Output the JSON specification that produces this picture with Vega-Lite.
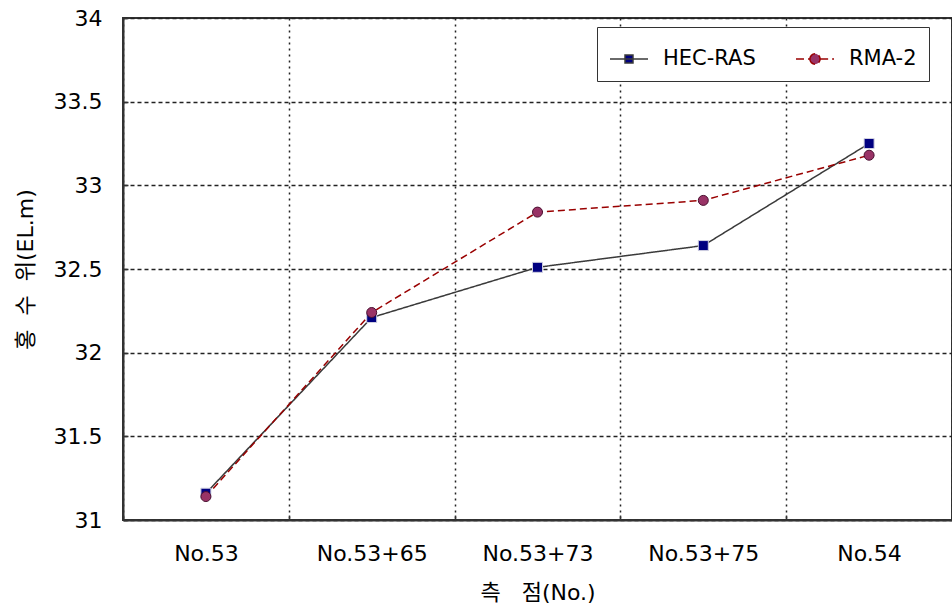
{
  "$schema": "https://vega.github.io/schema/vega-lite/v6.json",
  "width": 829,
  "height": 502,
  "autosize": {"type": "none"},
  "padding": {"left": 123, "top": 18, "right": 0, "bottom": 93},
  "background": "white",
  "config": {
    "view": {"stroke": "#333333", "strokeWidth": 2},
    "font": "DejaVu Sans, Noto Sans CJK KR",
    "axis": {
      "domainColor": "#333333",
      "domainWidth": 2,
      "tickColor": "#333333",
      "tickWidth": 1.5,
      "tickSize": -5,
      "labelFont": "DejaVu Sans",
      "labelFontSize": 22,
      "labelColor": "black",
      "titleFont": "DejaVu Sans, Noto Sans CJK KR",
      "titleFontSize": 22,
      "titleFontWeight": "normal",
      "titleColor": "black",
      "gridColor": "#222222",
      "gridWidth": 1.5,
      "gridOpacity": 1
    }
  },
  "data": {
    "values": [
      {"station": "No.53", "model": "HEC-RAS", "wl": 31.16},
      {"station": "No.53+65", "model": "HEC-RAS", "wl": 32.21},
      {"station": "No.53+73", "model": "HEC-RAS", "wl": 32.51},
      {"station": "No.53+75", "model": "HEC-RAS", "wl": 32.64},
      {"station": "No.54", "model": "HEC-RAS", "wl": 33.25},
      {"station": "No.53", "model": "RMA-2", "wl": 31.14},
      {"station": "No.53+65", "model": "RMA-2", "wl": 32.24},
      {"station": "No.53+73", "model": "RMA-2", "wl": 32.84},
      {"station": "No.53+75", "model": "RMA-2", "wl": 32.91},
      {"station": "No.54", "model": "RMA-2", "wl": 33.18}
    ]
  },
  "encoding": {
    "x": {
      "field": "station",
      "type": "nominal",
      "sort": null,
      "bandPosition": 0.5,
      "scale": {"type": "band", "paddingInner": 0, "paddingOuter": 0},
      "axis": {
        "title": "측\u00a0\u00a0\u00a0점(No.)",
        "labelAngle": 0,
        "labelPadding": 28,
        "titlePadding": 18,
        "tickBand": "extent",
        "grid": true,
        "gridDash": [2, 4]
      }
    },
    "y": {
      "field": "wl",
      "type": "quantitative",
      "scale": {"domain": [31, 34], "nice": false, "zero": false},
      "axis": {
        "title": "홍\u00a0\u00a0수\u00a0\u00a0위(EL.m)",
        "values": [31, 31.5, 32, 32.5, 33, 33.5, 34],
        "format": "~g",
        "labelPadding": 26,
        "titlePadding": 16,
        "grid": true,
        "gridDash": [4, 3]
      }
    }
  },
  "layer": [
    {
      "mark": {"type": "line", "strokeWidth": 1.5},
      "encoding": {
        "color": {
          "field": "model",
          "type": "nominal",
          "scale": {"range": ["#3a3a3a", "#990000"]},
          "legend": null
        },
        "strokeDash": {
          "field": "model",
          "type": "nominal",
          "scale": {"range": [[1, 0], [7, 4]]},
          "legend": null
        }
      }
    },
    {
      "mark": {"type": "point", "filled": true, "size": 100, "opacity": 1, "strokeWidth": 1},
      "encoding": {
        "shape": {
          "field": "model",
          "type": "nominal",
          "scale": {"range": ["square", "circle"]},
          "legend": null
        },
        "fill": {
          "field": "model",
          "type": "nominal",
          "scale": {"range": ["#000080", "#993366"]},
          "legend": null
        },
        "stroke": {
          "field": "model",
          "type": "nominal",
          "scale": {"range": ["#d0d0e0", "#4a1030"]},
          "legend": null
        }
      }
    },
    {
      "transform": [{"filter": "false"}],
      "mark": {"type": "point", "filled": true, "opacity": 1, "strokeWidth": 1.5},
      "encoding": {
        "shape": {
          "field": "model",
          "type": "nominal",
          "scale": {
            "domain": ["HEC-RAS", "RMA-2"],
            "range": [
              "M-1,0H1M-0.21,-0.21H0.21V0.21H-0.21Z",
              "M-1,0H-0.27M0.27,0H1M-0.27,0A0.27,0.27 0 1,0 0.27,0A0.27,0.27 0 1,0 -0.27,0Z"
            ]
          },
          "legend": {
            "title": null,
            "orient": "none",
            "legendX": 474,
            "legendY": 9,
            "direction": "horizontal",
            "columns": 2,
            "padding": 12,
            "strokeColor": "#333333",
            "fillColor": "white",
            "symbolSize": 1444,
            "labelOffset": 14,
            "columnPadding": 37,
            "labelFont": "DejaVu Sans",
            "labelFontSize": 21,
            "labelColor": "black",
            "symbolStrokeWidth": 1.5,
            "symbolOpacity": 1
          }
        },
        "fill": {
          "field": "model",
          "type": "nominal",
          "scale": {"domain": ["HEC-RAS", "RMA-2"], "range": ["#000080", "#993366"]}
        },
        "stroke": {
          "field": "model",
          "type": "nominal",
          "scale": {"domain": ["HEC-RAS", "RMA-2"], "range": ["#3a3a3a", "#990000"]}
        },
        "strokeDash": {
          "field": "model",
          "type": "nominal",
          "scale": {"domain": ["HEC-RAS", "RMA-2"], "range": [[1, 0], [8, 4]]}
        }
      }
    }
  ],
  "resolve": {
    "scale": {"shape": "independent", "fill": "independent", "stroke": "independent", "strokeDash": "independent", "color": "independent"}
  }
}
